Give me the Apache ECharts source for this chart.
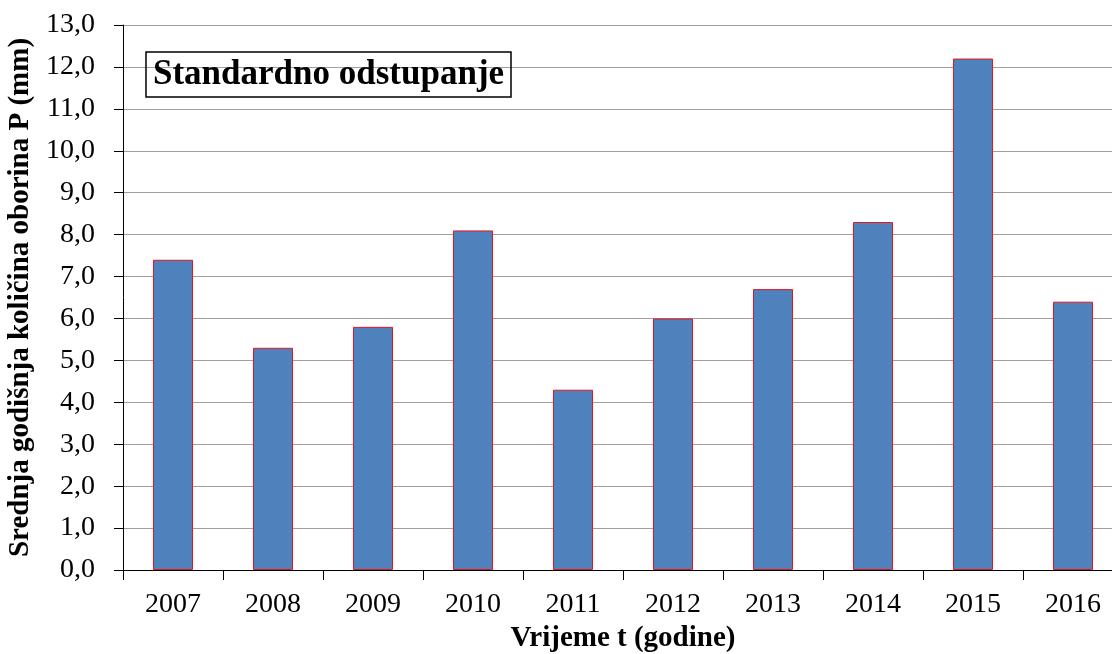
<!DOCTYPE html>
<html>
<head>
<meta charset="utf-8">
<script src="https://cdn.jsdelivr.net/npm/echarts@6/dist/echarts.min.js"></script>
<style>
  html, body { margin: 0; padding: 0; background: #fff; }
  #chart1 { width: 1112px; height: 654px; }
</style>
</head>
<body>
<div id="chart1"></div>
<script>
var godine = ["2007", "2008", "2009", "2010", "2011", "2012", "2013", "2014", "2015", "2016"];
var odstupanje = [7.4, 5.3, 5.8, 8.1, 4.3, 6.0, 6.7, 8.3, 12.2, 6.4];

var serif = "'Liberation Serif', 'DejaVu Serif', serif";

var bar_option = {
    backgroundColor: "#ffffff",
    animation: false,
    title: {
        text: "Standardno odstupanje",
        left: 146,
        top: 52,
        padding: [5, 7, 5, 7],
        borderColor: "#000000",
        borderWidth: 1.5,
        textStyle: {
            fontFamily: serif,
            fontWeight: "bold",
            fontSize: 35,
            color: "#000000"
        }
    },
    grid: {
        left: 123,
        top: 25,
        width: 1000,
        height: 545,
        outerBoundsMode: "none"
    },
    xAxis: {
        type: "category",
        data: godine,
        name: "Vrijeme t (godine)",
        nameLocation: "middle",
        nameGap: 54,
        nameTextStyle: {
            fontFamily: serif,
            fontWeight: "bold",
            fontSize: 29,
            color: "#000000"
        },
        axisLine: { lineStyle: { color: "#000000", width: 1 } },
        axisTick: { show: true, length: 10, lineStyle: { color: "#000000" } },
        axisLabel: {
            margin: 21,
            fontFamily: serif,
            fontSize: 28,
            color: "#000000"
        }
    },
    yAxis: {
        type: "value",
        min: 0,
        max: 13,
        interval: 1,
        name: "Srednja godišnja količina oborina P (mm)",
        nameLocation: "middle",
        nameGap: 82,
        nameTextStyle: {
            fontFamily: serif,
            fontWeight: "bold",
            fontSize: 29,
            color: "#000000"
        },
        axisLine: { show: true, lineStyle: { color: "#000000", width: 1 } },
        axisTick: { show: true, length: 9, lineStyle: { color: "#000000" } },
        axisLabel: {
            margin: 28,
            fontFamily: serif,
            fontSize: 28,
            color: "#000000",
            formatter: function (v) {
                return v.toFixed(1).replace(".", ",");
            }
        },
        splitLine: { show: true, lineStyle: { color: "#a0a0a0", width: 1 } }
    },
    series: [
        {
            name: "Standardno odstupanje",
            type: "bar",
            data: odstupanje,
            barWidth: "40%",
            itemStyle: {
                color: "#4f81bd",
                borderColor: "#e8141c",
                borderWidth: 1
            }
        }
    ]
};

var echart_1 = echarts.init(document.getElementById("chart1"));
echart_1.setOption(bar_option);
</script>
</body>
</html>
